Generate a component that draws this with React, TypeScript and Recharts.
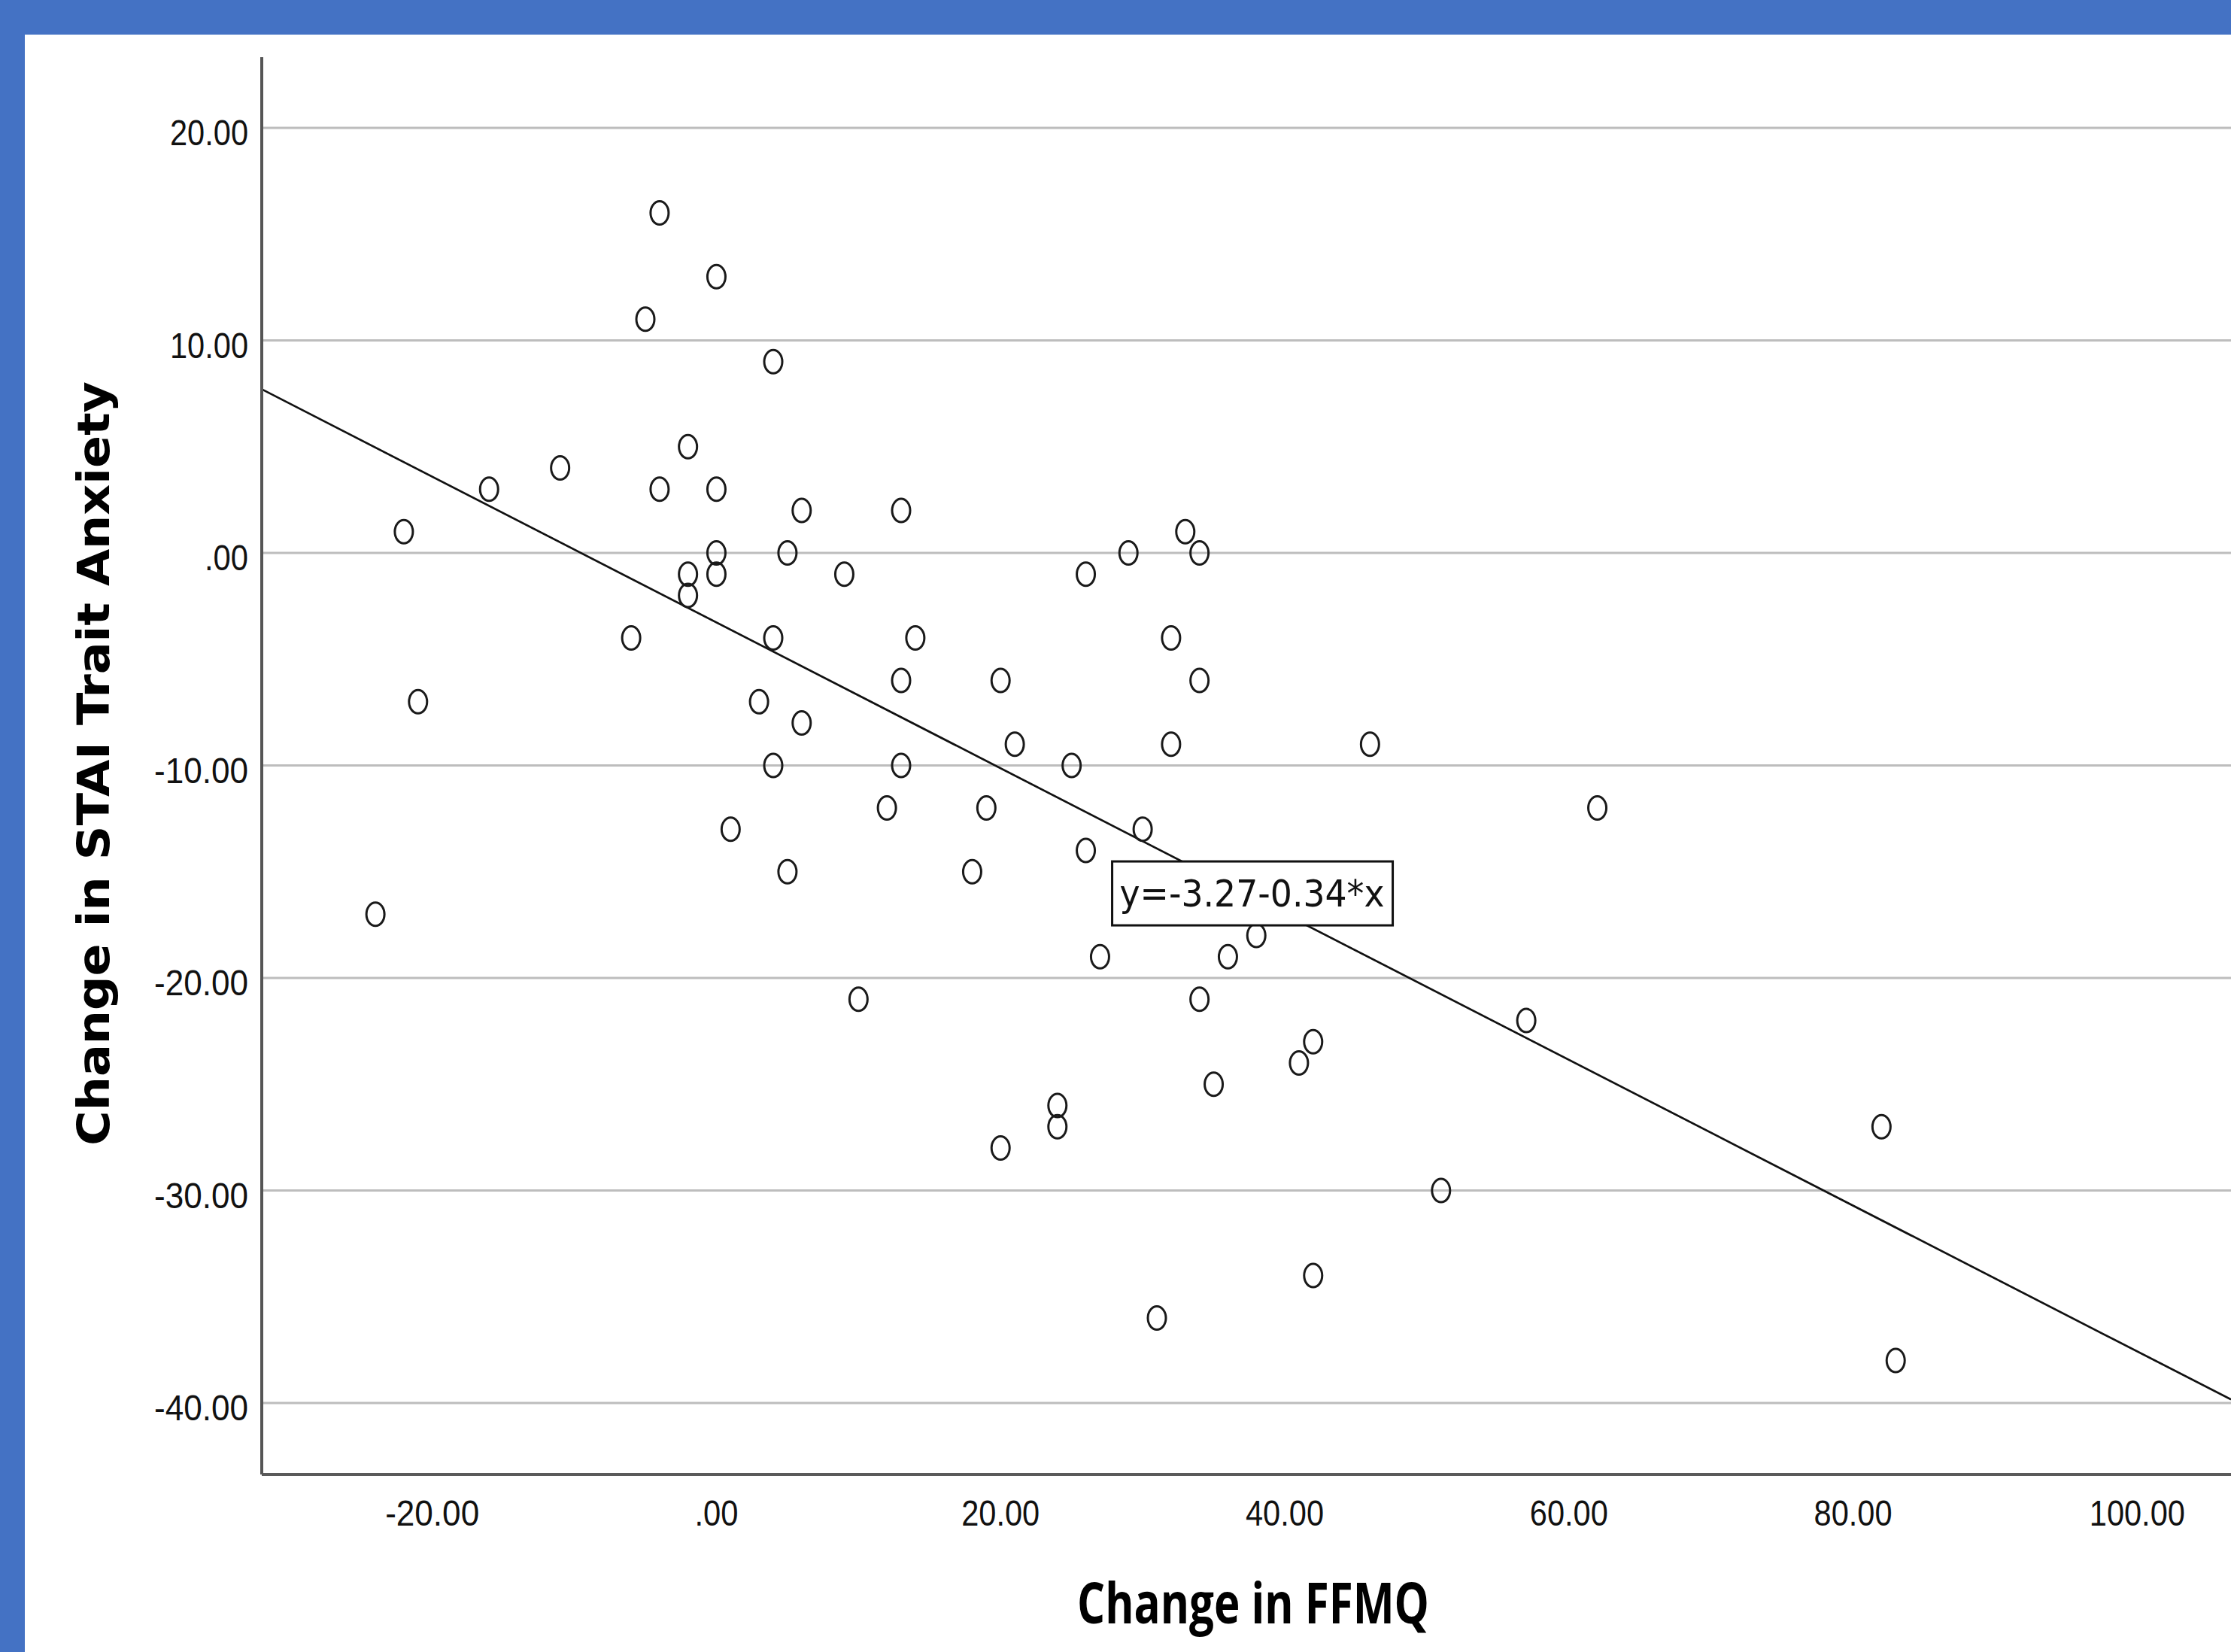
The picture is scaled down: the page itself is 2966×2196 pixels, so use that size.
import React from 'react';
import {
  ScatterChart,
  Scatter,
  XAxis,
  YAxis,
  CartesianGrid,
  ReferenceLine,
  ReferenceDot
} from 'recharts';

// change scores
const ffmqChange = [
  -4, 0, -5, 4, -11, -2, -16, -4, 0, -22,
  6, 13, 0, 5, -2, 0, -2, 9, -6, 4,
  14, -21, 3, 6, 13, 4, 13, 1, 5, 12,
  -24, 10, 20, 21, 19, 18, 25, 26, 29, 33,
  34, 32, 34, 32, 30, 26, 27, 36, 38, 34,
  24, 24, 20, 35, 41, 42, 46, 62, 57, 51,
  42, 31, 82, 83
];
const staiChange = [
  16, 13, 11, 9, 4, 5, 3, 3, 3, 1,
  2, 2, 0, 0, -1, -1, -2, -1, -4, -4,
  -4, -7, -7, -8, -6, -10, -10, -13, -15, -12,
  -17, -21, -6, -9, -12, -15, -10, -1, 0, 1,
  0, -4, -6, -9, -13, -14, -19, -19, -18, -21,
  -26, -27, -28, -25, -24, -23, -9, -12, -22, -30,
  -34, -36, -27, -38
];
const xTicks = [-20, 0, 20, 40, 60, 80, 100];
const yTicks = [-40, -30, -20, -10, 0, 10, 20];

const INTERCEPT = -3.27;
const SLOPE = -0.343;
const EQUATION = 'y=-3.27-0.34*x';

const X_DOMAIN: [number, number] = [-32, 106.6];
const Y_DOMAIN: [number, number] = [-43.36, 23.33];

const points = ffmqChange.map((x, i) => ({ x, y: staiChange[i] }));
const fitLine = X_DOMAIN.map((x) => ({ x, y: INTERCEPT + SLOPE * x }));

const fmt = (v: number) => (v === 0 ? '.00' : v.toFixed(2));
// tick labels are set in a narrow face; squeeze to the measured widths
const labelWidth = (s: string) =>
  s.split('').reduce((w, c) => w + (c === '.' ? 12 : c === '-' ? 21 : 23), 0);
const tickFont = '"Liberation Sans", Arial, sans-serif';

const TickText = ({ x, y, anchor, text }: any) => (
  <text
    x={x}
    y={y}
    textAnchor={anchor}
    fontSize={49}
    fontFamily={tickFont}
    textLength={labelWidth(text)}
    lengthAdjust="spacingAndGlyphs"
    fill="#111"
  >
    {text}
  </text>
);

const XTick = (props: any) => {
  const { x, y, payload } = props;
  return <TickText x={x} y={y + 68} anchor="middle" text={fmt(payload.value)} />;
};

const YTick = (props: any) => {
  const { x, y, payload } = props;
  return <TickText x={x - 18} y={y + 23} anchor="end" text={fmt(payload.value)} />;
};

const OpenMarker = (props: any) => {
  const { cx, cy } = props;
  return <ellipse cx={cx} cy={cy} rx={12} ry={15.5} fill="none" stroke="#1a1a1a" strokeWidth={3} />;
};

const EquationBox = (props: any) => {
  const { cx, cy } = props;
  return (
    <g>
      <rect x={cx - 186} y={cy - 42} width={373} height={85} fill="#fff" stroke="#111" strokeWidth={3} />
      <text
        x={cx}
        y={cy + 18}
        textAnchor="middle"
        fontSize={50}
        fontFamily='"DejaVu Sans Condensed", "DejaVu Sans", sans-serif'
        textLength={352}
        lengthAdjust="spacingAndGlyphs"
        fill="#111"
      >
        {EQUATION}
      </text>
    </g>
  );
};

const XLabel = () => (
  <text
    x={1666}
    y={2158}
    textAnchor="middle"
    fontSize={76}
    fontWeight="bold"
    fontFamily='"Open Sans", "Noto Sans", sans-serif'
    textLength={468}
    lengthAdjust="spacingAndGlyphs"
    fill="#000"
  >
    Change in FFMQ
  </text>
);

const YLabel = () => (
  <text
    x={145}
    y={1015}
    transform="rotate(-90, 145, 1015)"
    textAnchor="middle"
    fontSize={58}
    fontWeight="bold"
    fontFamily='"DejaVu Sans", Verdana, sans-serif'
    textLength={1016}
    lengthAdjust="spacingAndGlyphs"
    fill="#000"
  >
    Change in STAI Trait Anxiety
  </text>
);

export default function App() {
  return (
    <div style={{ position: 'absolute', left: 0, top: 0, width: 2966, height: 2196, background: '#4472C4' }}>
      <div style={{ position: 'absolute', left: 33, top: 46, width: 2933, height: 2150, background: '#fff' }} />
      <div style={{ position: 'absolute', left: 0, top: 0 }}>
        <ScatterChart width={2966} height={2196} margin={{ top: 76, right: 0, bottom: 0, left: 0 }}>
          <CartesianGrid
            vertical={false}
            horizontalValues={yTicks}
            stroke="#bdbdbd"
            strokeWidth={3}
          />
          <XAxis
            type="number"
            dataKey="x"
            domain={X_DOMAIN}
            ticks={xTicks}
            allowDataOverflow
            height={236}
            tickLine={false}
            tickSize={0}
            tickMargin={0}
            axisLine={{ stroke: '#5a5a5a', strokeWidth: 4 }}
            tick={<XTick />}
            label={{ content: () => <XLabel /> }}
          />
          <YAxis
            type="number"
            dataKey="y"
            domain={Y_DOMAIN}
            ticks={yTicks}
            allowDataOverflow
            width={348}
            tickLine={false}
            tickSize={0}
            tickMargin={0}
            axisLine={{ stroke: '#555', strokeWidth: 4 }}
            tick={<YTick />}
            label={{ content: () => <YLabel /> }}
          />
          <ReferenceLine segment={fitLine} stroke="#111" strokeWidth={2.7} />
          <Scatter data={points} shape={<OpenMarker />} isAnimationActive={false} />
          <ReferenceDot x={37.7} y={-16} shape={<EquationBox />} />
        </ScatterChart>
      </div>
    </div>
  );
}
